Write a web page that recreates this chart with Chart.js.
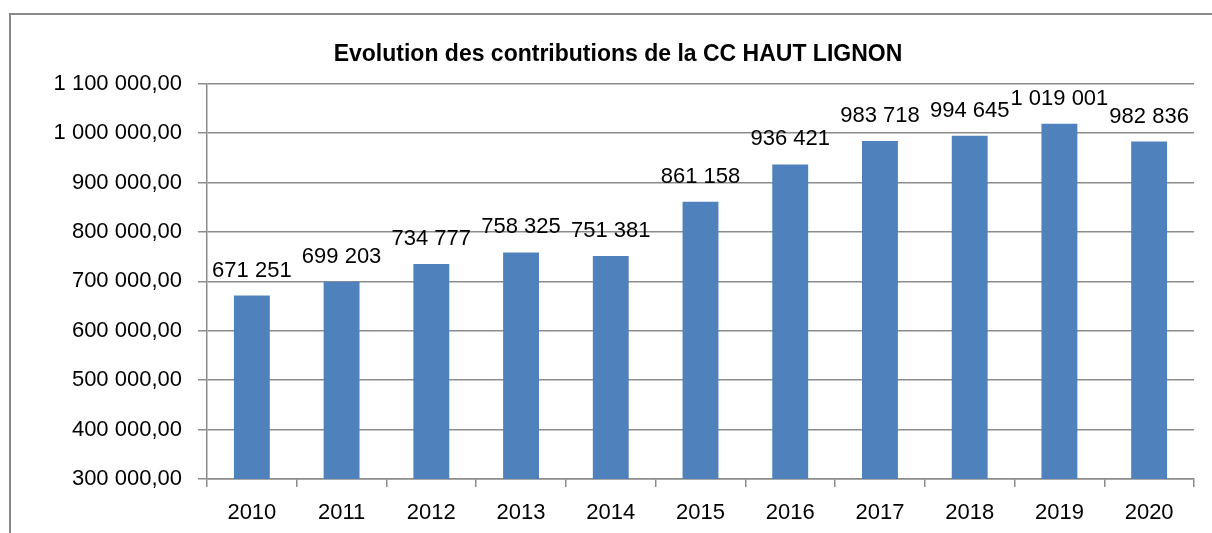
<!DOCTYPE html>
<html lang="fr">
<head>
    <meta charset="UTF-8">
    <title>Evolution des contributions de la CC HAUT LIGNON</title>
    <script src="https://cdn.jsdelivr.net/npm/chart.js"></script>
    <style>
        body {
            margin: 0;
            background-color: white;
            width: 1212px;
            height: 533px;
            overflow: hidden;
            position: relative;
        }
        .frame {
            position: absolute;
            left: 9px;
            top: 13px;
            width: 1220px;
            height: 540px;
            border-left: 2px solid #898989;
            border-top: 2px solid #898989;
        }
        .chart-container {
            position: absolute;
            left: 0;
            top: 0;
            width: 1212px;
            height: 533px;
        }
    </style>
</head>
<body>
    <div class="frame"></div>
    <div class="chart-container">
        <canvas id="contribChart"></canvas>
    </div>

    <script>
        const years = ['2010', '2011', '2012', '2013', '2014', '2015', '2016', '2017', '2018', '2019', '2020'];
        const contributions = [671251, 699203, 734777, 758325, 751381, 861158, 936421, 983718, 994645, 1019001, 982836];
        const yMin = 300000;
        const yMax = 1100000;
        const yStep = 100000;

        const FONT = "'Liberation Sans', Arial, sans-serif";
        const GRID = '#8c8c8c';

        // 1234567 -> "1 234 567"
        function groupDigits(n) {
            return String(Math.round(n)).replace(/\B(?=(\d{3})+(?!\d))/g, ' ');
        }

        const valueLabels = {
            id: 'valueLabels',
            afterDatasetsDraw(chart) {
                const ctx = chart.ctx;
                const meta = chart.getDatasetMeta(0);
                ctx.save();
                ctx.font = '22px ' + FONT;
                ctx.fillStyle = 'black';
                ctx.textAlign = 'center';
                ctx.textBaseline = 'alphabetic';
                meta.data.forEach((bar, i) => {
                    ctx.fillText(groupDigits(contributions[i]), bar.x, bar.y - 19);
                });
                ctx.restore();
            }
        };

        const ctx = document.getElementById('contribChart').getContext('2d');
        new Chart(ctx, {
            type: 'bar',
            data: {
                labels: years,
                datasets: [{
                    data: contributions,
                    backgroundColor: '#4F81BD',
                    borderWidth: 0,
                    barPercentage: 0.4,
                    categoryPercentage: 1.0
                }]
            },
            options: {
                responsive: true,
                maintainAspectRatio: false,
                animation: false,
                layout: {
                    padding: { left: 42, right: 18, top: 0, bottom: 0 }
                },
                scales: {
                    x: {
                        grid: {
                            display: true,
                            drawOnChartArea: false,
                            drawTicks: true,
                            tickLength: 8,
                            color: GRID,
                            lineWidth: 1.5
                        },
                        border: { display: true, color: GRID, width: 1.5 },
                        ticks: {
                            font: { family: FONT, size: 22 },
                            color: 'black',
                            padding: 13,
                            maxRotation: 0
                        },
                        afterFit(scale) {
                            scale.height = 54;
                        }
                    },
                    y: {
                        min: yMin,
                        max: yMax,
                        grid: {
                            color: GRID,
                            lineWidth: 1.5,
                            tickLength: 9
                        },
                        border: { display: true, color: GRID, width: 1.5 },
                        ticks: {
                            stepSize: yStep,
                            font: { family: FONT, size: 22 },
                            color: 'black',
                            padding: 16,
                            callback: function(value) {
                                return groupDigits(value) + ',00';
                            }
                        },
                        afterFit(scale) {
                            scale.width = 165;
                        }
                    }
                },
                plugins: {
                    legend: { display: false },
                    tooltip: { enabled: false },
                    title: {
                        display: true,
                        text: 'Evolution des contributions de la CC HAUT LIGNON',
                        color: 'black',
                        font: { family: FONT, size: 23, weight: 'bold', lineHeight: 1.2 },
                        padding: { top: 41, bottom: 15 }
                    }
                }
            },
            plugins: [valueLabels]
        });
    </script>
</body>
</html>
